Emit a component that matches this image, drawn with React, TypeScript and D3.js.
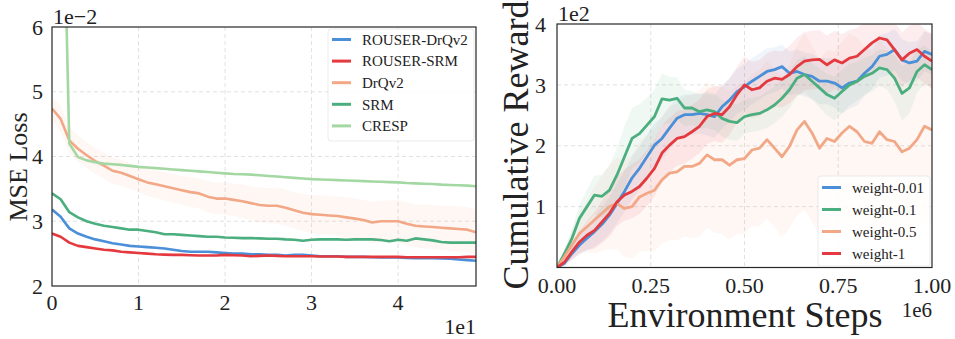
import React from 'react';
import * as d3 from 'd3';

// ---- left panel: MSE loss (x in 1e1, y in 1e-2) ----
const lossSteps = d3.range(50).map(i => i * 0.1);

const rouserDrqv2Loss = [3.18, 3.07, 2.89, 2.81, 2.76, 2.72, 2.69, 2.66, 2.64, 2.62, 2.61, 2.6, 2.59, 2.58, 2.56, 2.54, 2.53, 2.53, 2.53, 2.52, 2.51, 2.5, 2.5, 2.49, 2.49, 2.48, 2.48, 2.47, 2.48, 2.48, 2.47, 2.46, 2.46, 2.46, 2.45, 2.45, 2.45, 2.445, 2.44, 2.44, 2.44, 2.435, 2.43, 2.43, 2.43, 2.425, 2.42, 2.41, 2.4, 2.39];
const rouserSrmLoss = [2.81, 2.76, 2.67, 2.62, 2.6, 2.58, 2.56, 2.55, 2.53, 2.52, 2.51, 2.5, 2.49, 2.485, 2.48, 2.48, 2.475, 2.47, 2.47, 2.47, 2.48, 2.475, 2.47, 2.46, 2.465, 2.47, 2.465, 2.46, 2.46, 2.46, 2.46, 2.455, 2.455, 2.455, 2.45, 2.45, 2.45, 2.45, 2.45, 2.45, 2.45, 2.445, 2.445, 2.445, 2.445, 2.445, 2.445, 2.445, 2.45, 2.45];
const drqv2Loss = [4.74, 4.58, 4.25, 4.12, 4.02, 3.93, 3.86, 3.78, 3.75, 3.7, 3.65, 3.6, 3.57, 3.54, 3.51, 3.48, 3.45, 3.43, 3.38, 3.35, 3.35, 3.33, 3.31, 3.28, 3.25, 3.24, 3.24, 3.21, 3.17, 3.13, 3.11, 3.1, 3.09, 3.08, 3.06, 3.04, 3.02, 2.98, 3.0, 3.0, 3.0, 2.96, 2.93, 2.92, 2.91, 2.9, 2.89, 2.88, 2.87, 2.83];
const drqv2LossStd = [0.18, 0.2, 0.2, 0.2, 0.2, 0.2, 0.2, 0.2, 0.2, 0.2, 0.2, 0.21, 0.21, 0.22, 0.22, 0.22, 0.23, 0.23, 0.24, 0.24, 0.25, 0.25, 0.26, 0.26, 0.27, 0.27, 0.28, 0.28, 0.28, 0.29, 0.29, 0.3, 0.3, 0.3, 0.31, 0.31, 0.31, 0.32, 0.32, 0.32, 0.33, 0.33, 0.33, 0.34, 0.34, 0.34, 0.35, 0.35, 0.35, 0.35];
const srmLoss = [3.43, 3.34, 3.14, 3.06, 3.0, 2.96, 2.93, 2.91, 2.89, 2.87, 2.87, 2.85, 2.83, 2.8, 2.8, 2.79, 2.78, 2.77, 2.76, 2.76, 2.75, 2.745, 2.74, 2.74, 2.735, 2.73, 2.73, 2.72, 2.715, 2.7, 2.715, 2.72, 2.72, 2.72, 2.715, 2.72, 2.72, 2.72, 2.71, 2.69, 2.715, 2.7, 2.735, 2.72, 2.705, 2.68, 2.67, 2.67, 2.67, 2.67];
const crespLoss = [30, 10, 4.2, 3.99, 3.94, 3.91, 3.89, 3.88, 3.87, 3.855, 3.84, 3.83, 3.82, 3.81, 3.8, 3.79, 3.78, 3.77, 3.76, 3.75, 3.74, 3.73, 3.725, 3.72, 3.71, 3.7, 3.69, 3.68, 3.67, 3.66, 3.65, 3.645, 3.64, 3.635, 3.63, 3.625, 3.62, 3.615, 3.61, 3.605, 3.6, 3.59, 3.585, 3.58, 3.575, 3.565, 3.56, 3.555, 3.55, 3.54];

const lossLabels = ['ROUSER-DrQv2', 'ROUSER-SRM', 'DrQv2', 'SRM', 'CRESP'];
const lossXTicks = [0, 1, 2, 3, 4];
const lossYTicks = [2, 3, 4, 5, 6];

// ---- right panel: cumulative reward (x in 1e6, y in 1e2) ----
const rewardSteps = d3.range(51).map(i => i * 0.02);

const w001 = [0, 0.07, 0.23, 0.37, 0.48, 0.59, 0.71, 0.86, 1.05, 1.25, 1.47, 1.63, 1.82, 2.01, 2.12, 2.29, 2.45, 2.51, 2.51, 2.53, 2.51, 2.48, 2.64, 2.75, 2.89, 2.97, 3.06, 3.14, 3.22, 3.25, 3.3, 3.19, 3.22, 3.17, 3.14, 3.06, 3.06, 3.03, 2.95, 3.03, 3.06, 3.19, 3.3, 3.47, 3.5, 3.58, 3.41, 3.36, 3.39, 3.55, 3.5];
const w01 = [0, 0.23, 0.48, 0.81, 1.0, 1.19, 1.17, 1.27, 1.52, 1.82, 2.12, 2.2, 2.34, 2.48, 2.77, 2.75, 2.78, 2.62, 2.62, 2.56, 2.59, 2.56, 2.45, 2.4, 2.38, 2.48, 2.51, 2.53, 2.59, 2.67, 2.78, 2.92, 3.11, 3.17, 3.06, 2.95, 2.84, 2.78, 2.89, 3.0, 3.06, 3.14, 3.19, 3.28, 3.25, 3.11, 2.86, 2.95, 3.22, 3.33, 3.25];
const w05 = [0, 0.18, 0.37, 0.56, 0.67, 0.78, 0.89, 1.0, 1.05, 0.97, 1.0, 1.16, 1.22, 1.27, 1.44, 1.55, 1.57, 1.66, 1.66, 1.71, 1.85, 1.77, 1.77, 1.68, 1.77, 1.79, 1.93, 1.96, 2.1, 1.96, 1.82, 1.99, 2.26, 2.4, 2.21, 1.96, 2.12, 2.07, 2.21, 2.32, 2.23, 2.07, 2.04, 2.23, 2.1, 2.07, 1.9, 1.96, 2.1, 2.32, 2.26];
const w1 = [0, 0.09, 0.26, 0.42, 0.53, 0.61, 0.75, 0.89, 1.08, 1.19, 1.25, 1.33, 1.47, 1.63, 1.88, 2.01, 2.12, 2.15, 2.23, 2.32, 2.48, 2.53, 2.51, 2.64, 2.84, 3.0, 2.92, 2.95, 3.06, 3.11, 3.09, 3.17, 3.3, 3.39, 3.41, 3.42, 3.33, 3.41, 3.36, 3.44, 3.47, 3.58, 3.69, 3.77, 3.74, 3.58, 3.41, 3.52, 3.58, 3.47, 3.39];

const w001Std = [0, 0.05, 0.1, 0.15, 0.2, 0.25, 0.28, 0.3, 0.32, 0.34, 0.35, 0.36, 0.36, 0.36, 0.35, 0.35, 0.34, 0.33, 0.33, 0.33, 0.34, 0.35, 0.36, 0.36, 0.37, 0.38, 0.38, 0.38, 0.38, 0.37, 0.36, 0.36, 0.36, 0.36, 0.37, 0.38, 0.38, 0.4, 0.42, 0.42, 0.4, 0.38, 0.36, 0.35, 0.35, 0.34, 0.34, 0.34, 0.33, 0.33, 0.33];
const w01Std = [0, 0.08, 0.15, 0.22, 0.28, 0.32, 0.35, 0.4, 0.45, 0.5, 0.5, 0.48, 0.45, 0.45, 0.42, 0.38, 0.34, 0.3, 0.28, 0.28, 0.3, 0.3, 0.3, 0.3, 0.3, 0.28, 0.28, 0.28, 0.3, 0.3, 0.3, 0.3, 0.3, 0.3, 0.3, 0.32, 0.34, 0.36, 0.36, 0.34, 0.32, 0.3, 0.3, 0.3, 0.32, 0.38, 0.45, 0.42, 0.35, 0.32, 0.3];
const w05Std = [0, 0.12, 0.25, 0.35, 0.42, 0.55, 0.62, 0.7, 0.75, 0.8, 0.85, 0.9, 0.95, 1.0, 1.05, 1.1, 1.12, 1.15, 1.18, 1.2, 1.2, 1.2, 1.22, 1.22, 1.22, 1.23, 1.25, 1.28, 1.3, 1.3, 1.32, 1.35, 1.4, 1.45, 1.45, 1.45, 1.45, 1.48, 1.5, 1.52, 1.55, 1.55, 1.52, 1.52, 1.5, 1.5, 1.48, 1.5, 1.52, 1.55, 1.58];
const w1Std = [0, 0.06, 0.12, 0.18, 0.24, 0.3, 0.35, 0.38, 0.4, 0.42, 0.44, 0.45, 0.46, 0.46, 0.46, 0.45, 0.45, 0.44, 0.44, 0.44, 0.45, 0.45, 0.46, 0.46, 0.46, 0.46, 0.46, 0.46, 0.46, 0.46, 0.46, 0.47, 0.48, 0.48, 0.48, 0.48, 0.48, 0.48, 0.47, 0.46, 0.46, 0.46, 0.46, 0.46, 0.46, 0.45, 0.45, 0.45, 0.45, 0.45, 0.45];

const rewardLabels = ['weight-0.01', 'weight-0.1', 'weight-0.5', 'weight-1'];
const rewardXTicks = [0, 0.25, 0.5, 0.75, 1.0];
const rewardYTicks = [1, 2, 3, 4];

const BLUE = '#4a8fd8';
const RED = '#e4393e';
const PEACH = '#f2a886';
const GREEN = '#4aae7e';
const LIGHTGREEN = '#a3d8a3';

const FONT = "'Liberation Serif', 'Times New Roman', serif";
const GRID = '#dedede';
const SPINE = '#262626';

export default function App() {
  // left panel geometry
  const lx = d3.scaleLinear().domain([0, 4.9]).range([52, 476]);
  const ly = d3.scaleLinear().domain([2, 6]).range([286, 27]);
  const lossLine = d3.line<number>().x((_, i) => lx(lossSteps[i])).y(d => ly(d));
  const lossBand = d3.area<number>()
    .x((_, i) => lx(lossSteps[i]))
    .y0((d, i) => ly(d - drqv2LossStd[i]))
    .y1((d, i) => ly(d + drqv2LossStd[i]));

  const lossSeries = [
    { label: lossLabels[0], values: rouserDrqv2Loss, color: BLUE },
    { label: lossLabels[1], values: rouserSrmLoss, color: RED },
    { label: lossLabels[2], values: drqv2Loss, color: PEACH },
    { label: lossLabels[3], values: srmLoss, color: GREEN },
    { label: lossLabels[4], values: crespLoss, color: LIGHTGREEN },
  ];

  // right panel geometry
  const rx = d3.scaleLinear().domain([0, 1]).range([557, 932]);
  const ry = d3.scaleLinear().domain([0, 4]).range([267.5, 24]);
  const rewardLine = d3.line<number>().x((_, i) => rx(rewardSteps[i])).y(d => ry(d));
  const rewardBand = (std: number[]) => d3.area<number>()
    .x((_, i) => rx(rewardSteps[i]))
    .y0((d, i) => ry(d - std[i]))
    .y1((d, i) => ry(d + std[i]));

  const rewardSeries = [
    { label: rewardLabels[0], values: w001, std: w001Std, color: BLUE },
    { label: rewardLabels[1], values: w01, std: w01Std, color: GREEN },
    { label: rewardLabels[2], values: w05, std: w05Std, color: PEACH },
    { label: rewardLabels[3], values: w1, std: w1Std, color: RED },
  ];

  return (
    <svg width={955} height={339} style={{ position: 'absolute', left: 0, top: 0, background: '#fff' }} fontFamily={FONT}>
      <defs>
        <clipPath id="clipL"><rect x={52} y={27} width={424} height={259} /></clipPath>
        <clipPath id="clipR"><rect x={557} y={24} width={375} height={243.5} /></clipPath>
      </defs>

      {/* ===== left panel ===== */}
      <g>
        {lossXTicks.slice(1).map(t => (
          <line key={'lgx' + t} x1={lx(t)} x2={lx(t)} y1={27} y2={286} stroke={GRID} strokeWidth={0.9} strokeDasharray="4,3" />
        ))}
        {lossYTicks.slice(1, -1).map(t => (
          <line key={'lgy' + t} x1={52} x2={476} y1={ly(t)} y2={ly(t)} stroke={GRID} strokeWidth={0.9} strokeDasharray="4,3" />
        ))}
        <g clipPath="url(#clipL)">
          <path d={lossBand(drqv2Loss) || ''} fill={PEACH} opacity={0.09} />
          {lossSeries.map(s => (
            <path key={s.label} d={lossLine(s.values) || ''} fill="none" stroke={s.color} strokeWidth={2.6} strokeLinejoin="round" />
          ))}
        </g>
        <rect x={52} y={27} width={424} height={259} fill="none" stroke={SPINE} strokeWidth={1.2} />
        {lossYTicks.map(t => (
          <text key={'lyt' + t} x={43} y={ly(t)} dy="0.35em" textAnchor="end" fontSize={22} fill="#222">{t}</text>
        ))}
        {lossXTicks.map(t => (
          <text key={'lxt' + t} x={lx(t)} y={310} textAnchor="middle" fontSize={22} fill="#222">{t}</text>
        ))}
        <text x={53} y={24} fontSize={22} fill="#222">1e−2</text>
        <text x={476} y={334} textAnchor="end" fontSize={22} fill="#222">1e1</text>
        <text transform="translate(27,167) rotate(-90)" textAnchor="middle" fontSize={26} fill="#222">MSE Loss</text>

        {/* legend */}
        <rect x={328} y={29} width={146} height={112} rx={3} fill="#fff" fillOpacity={0.85} stroke="#e6e6e6" strokeWidth={0.8} />
        {lossSeries.map((s, i) => (
          <g key={'ll' + s.label} transform={`translate(0,${39.5 + i * 21.6})`}>
            <line x1={332} x2={351} y1={0} y2={0} stroke={s.color} strokeWidth={3} />
            <text x={362} y={0} dy="0.35em" fontSize={15} fill="#222">{s.label}</text>
          </g>
        ))}
      </g>

      {/* ===== right panel ===== */}
      <g>
        {rewardXTicks.slice(1, -1).map(t => (
          <line key={'rgx' + t} x1={rx(t)} x2={rx(t)} y1={24} y2={267.5} stroke={GRID} strokeWidth={0.9} strokeDasharray="4,3" />
        ))}
        {rewardYTicks.slice(0, -1).map(t => (
          <line key={'rgy' + t} x1={557} x2={932} y1={ry(t)} y2={ry(t)} stroke={GRID} strokeWidth={0.9} strokeDasharray="4,3" />
        ))}
        <g clipPath="url(#clipR)">
          {rewardSeries.map(s => (
            <path key={'rb' + s.label} d={rewardBand(s.std)(s.values) || ''} fill={s.color} opacity={0.09} />
          ))}
          {rewardSeries.map(s => (
            <path key={'rl' + s.label} d={rewardLine(s.values) || ''} fill="none" stroke={s.color} strokeWidth={2.8} strokeLinejoin="round" />
          ))}
        </g>
        <rect x={557} y={24} width={375} height={243.5} fill="none" stroke={SPINE} strokeWidth={1.2} />
        {rewardYTicks.map(t => (
          <text key={'ryt' + t} x={546} y={ry(t)} dy="0.35em" textAnchor="end" fontSize={22} fill="#222">{t}</text>
        ))}
        {rewardXTicks.map(t => (
          <text key={'rxt' + t} x={rx(t)} y={293} textAnchor="middle" fontSize={22} fill="#222">{t.toFixed(2)}</text>
        ))}
        <text x={558} y={21} fontSize={22} fill="#222">1e2</text>
        <text x={932} y={317} textAnchor="end" fontSize={21} fill="#222">1e6</text>
        <text transform="translate(528,145) rotate(-90)" textAnchor="middle" fontSize={36} fill="#222">Cumulative Reward</text>
        <text x={745} y={327} textAnchor="middle" fontSize={36} fill="#222">Environment Steps</text>

        {/* legend */}
        <rect x={818} y={176} width={112} height={90} rx={3} fill="#fff" fillOpacity={0.8} stroke="#e6e6e6" strokeWidth={0.8} />
        {rewardSeries.map((s, i) => (
          <g key={'lg' + s.label} transform={`translate(0,${187.5 + i * 22})`}>
            <line x1={822} x2={841} y1={0} y2={0} stroke={s.color} strokeWidth={3} />
            <text x={852} y={0} dy="0.35em" fontSize={15} fill="#222">{s.label}</text>
          </g>
        ))}
      </g>
    </svg>
  );
}
